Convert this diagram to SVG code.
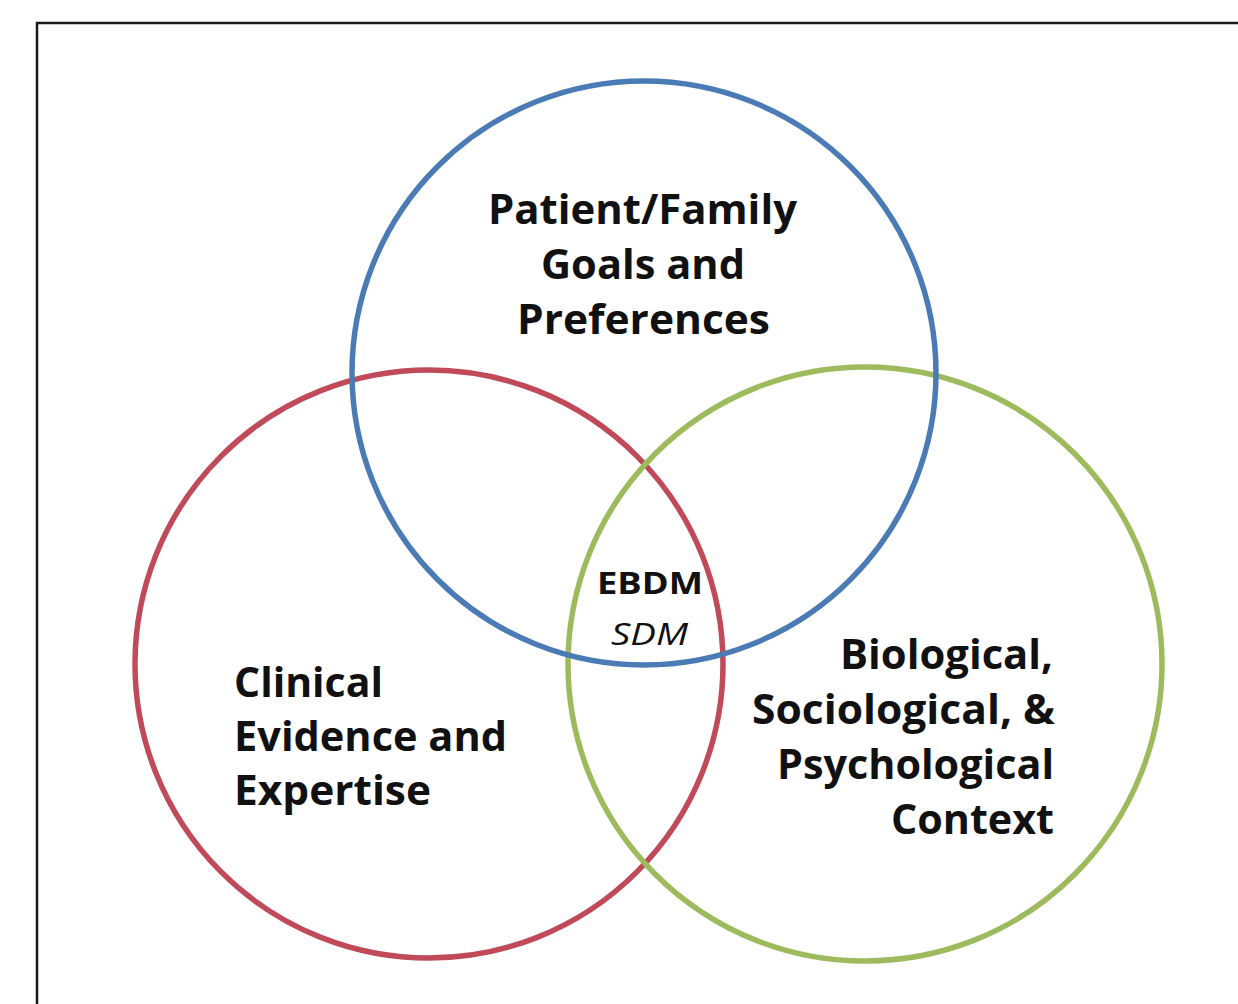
<svg xmlns="http://www.w3.org/2000/svg" width="1238" height="1004" viewBox="0 0 1238 1004">
  <style>
    .ring { fill: none; stroke-width: 5.5; }
    .lbl { font-family: "Open Sans", "Noto Sans", "DejaVu Sans", sans-serif; font-weight: bold; font-size: 42px; fill: #111; }
    .core { font-family: "Open Sans", "Noto Sans", "DejaVu Sans", sans-serif; font-size: 31px; fill: #111; }
  </style>
  <rect x="0" y="0" width="1238" height="1004" fill="#ffffff"/>
  <rect id="frame" x="37" y="23" width="1240" height="1020" fill="none" stroke="#1a1a1a" stroke-width="2.5"/>
  <g id="clinical">
    <circle class="ring" cx="429" cy="664" r="294" stroke="#c04a5a"/>
    <text class="lbl" x="234" y="697" textLength="149" lengthAdjust="spacingAndGlyphs">Clinical</text>
    <text class="lbl" x="234" y="751" textLength="273" lengthAdjust="spacingAndGlyphs">Evidence and</text>
    <text class="lbl" x="234" y="805" textLength="197" lengthAdjust="spacingAndGlyphs">Expertise</text>
  </g>
  <g id="context">
    <circle class="ring" cx="865" cy="664" r="297" stroke="#9dbb5c"/>
    <text class="lbl" x="840" y="669" textLength="213" lengthAdjust="spacingAndGlyphs">Biological,</text>
    <text class="lbl" x="752" y="724" textLength="303" lengthAdjust="spacingAndGlyphs">Sociological, &amp;</text>
    <text class="lbl" x="777" y="779" textLength="277" lengthAdjust="spacingAndGlyphs">Psychological</text>
    <text class="lbl" x="891" y="834" textLength="163" lengthAdjust="spacingAndGlyphs">Context</text>
  </g>
  <g id="patient">
    <circle class="ring" cx="644" cy="373" r="292" stroke="#4a7bb5"/>
    <text class="lbl" x="488" y="224" textLength="309" lengthAdjust="spacingAndGlyphs">Patient/Family</text>
    <text class="lbl" x="541" y="279" textLength="204" lengthAdjust="spacingAndGlyphs">Goals and</text>
    <text class="lbl" x="517" y="334" textLength="253" lengthAdjust="spacingAndGlyphs">Preferences</text>
  </g>
  <g id="ebdm">
    <text class="core" x="597" y="594" font-weight="bold" textLength="106" lengthAdjust="spacingAndGlyphs">EBDM</text>
    <text class="core" x="611" y="645" font-style="italic" font-size="27" fill="#333" textLength="77" lengthAdjust="spacingAndGlyphs">SDM</text>
  </g>
</svg>
